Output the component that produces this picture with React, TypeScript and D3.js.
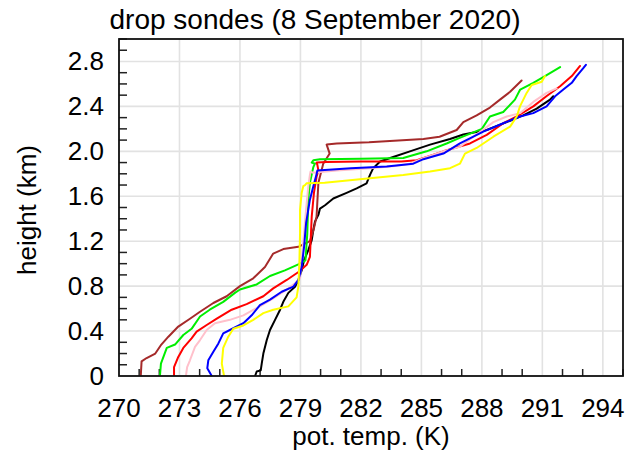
import * as d3 from "d3";

// potential temperature (K) and height (km) for each drop sonde
const brown: [number, number][] = [
  [271.08, 0], [271.12, 0.13], [271.37, 0.16], [271.8, 0.2], [272.1, 0.28], [272.45, 0.35],
  [272.94, 0.44], [273.52, 0.51], [274.0, 0.57], [274.68, 0.65], [275.34, 0.71], [276.0, 0.8],
  [276.66, 0.87], [277.24, 0.97], [277.65, 1.09], [278.15, 1.13], [278.9, 1.15], [279.47, 1.2],
  [279.65, 1.3], [279.8, 1.42], [279.89, 1.72], [280.13, 1.89], [280.45, 1.98], [280.3, 2.06],
  [280.8, 2.07], [282.4, 2.08], [285.1, 2.11], [285.9, 2.13], [286.75, 2.19], [287.08, 2.26],
  [287.74, 2.32], [288.4, 2.39], [288.9, 2.46], [289.4, 2.53], [289.97, 2.63],
];
const green: [number, number][] = [
  [272.03, 0], [272.08, 0.11], [272.37, 0.25], [272.78, 0.28], [273.19, 0.365], [273.6, 0.42],
  [274.02, 0.53], [274.5, 0.59], [275.17, 0.66], [275.75, 0.74], [276.0, 0.77], [276.83, 0.815],
  [277.49, 0.89], [278.23, 0.94], [278.98, 1.0], [279.25, 1.03], [279.34, 1.27], [279.39, 1.57],
  [279.47, 1.72], [279.64, 1.86], [279.72, 1.89], [279.56, 1.9], [279.64, 1.92], [279.97, 1.93],
  [282.0, 1.935], [284.1, 1.94], [285.26, 2.0], [286.25, 2.07], [286.9, 2.12], [288.0, 2.2],
  [288.4, 2.31], [289.06, 2.35], [289.64, 2.46], [289.9, 2.55], [290.55, 2.61], [291.13, 2.67],
  [291.88, 2.75],
];
const red: [number, number][] = [
  [272.73, 0], [272.73, 0.08], [272.94, 0.17], [273.19, 0.25], [273.6, 0.335], [273.85, 0.395],
  [274.35, 0.454], [274.85, 0.51], [275.59, 0.59], [276.33, 0.64], [277.16, 0.71], [277.65, 0.78],
  [278.32, 0.855], [278.94, 0.93], [279.31, 0.99], [279.47, 1.06], [279.56, 1.42], [279.67, 1.63],
  [279.8, 1.775], [279.89, 1.83], [279.84, 1.88], [279.8, 1.9], [280.3, 1.905], [282.0, 1.91],
  [284.0, 1.91], [284.77, 1.92], [286.09, 2.0], [287.41, 2.07], [288.24, 2.146], [289.06, 2.25],
  [289.73, 2.31], [290.55, 2.4], [291.2, 2.49], [291.88, 2.58], [292.46, 2.67], [292.87, 2.76],
];
const pink: [number, number][] = [
  [273.32, 0], [273.38, 0.08], [273.52, 0.14], [273.77, 0.26], [274.02, 0.32], [274.35, 0.41],
  [274.76, 0.47], [275.5, 0.5], [276.17, 0.54], [276.99, 0.62], [277.65, 0.69], [278.32, 0.77],
  [278.73, 0.825], [278.98, 0.87], [279.06, 1.03], [279.18, 1.27], [279.28, 1.48], [279.39, 1.69],
  [279.47, 1.79], [279.5, 1.82], [279.6, 1.81], [280.8, 1.83], [282.45, 1.85], [283.7, 1.87],
  [284.43, 1.89], [285.1, 1.94], [286.09, 2.0], [286.9, 2.04], [287.58, 2.13], [288.57, 2.26],
  [289.23, 2.31], [289.89, 2.34], [290.55, 2.44], [291.21, 2.52], [291.71, 2.56],
];
const blue: [number, number][] = [
  [274.6, 0], [274.38, 0.07], [274.43, 0.14], [274.68, 0.216], [274.93, 0.29], [275.17, 0.38],
  [275.67, 0.425], [276.17, 0.47], [276.58, 0.54], [276.99, 0.63], [277.49, 0.68], [278.07, 0.75],
  [278.65, 0.795], [278.9, 0.855], [279.06, 0.97], [279.18, 1.15], [279.28, 1.36], [279.47, 1.57],
  [279.64, 1.69], [279.77, 1.775], [279.84, 1.83], [281.5, 1.85], [283.28, 1.865], [284.6, 1.89],
  [285.1, 1.93], [286.09, 1.98], [286.91, 2.07], [288.07, 2.175], [289.06, 2.25], [289.89, 2.31],
  [290.55, 2.34], [291.21, 2.4], [291.63, 2.49], [292.04, 2.55], [292.46, 2.61], [292.7, 2.67],
  [293.03, 2.74], [293.16, 2.77],
];
const yellow: [number, number][] = [
  [275.21, 0], [275.1, 0.11], [275.17, 0.25], [275.42, 0.35], [275.67, 0.42], [276.17, 0.45],
  [276.66, 0.5], [277.16, 0.56], [277.65, 0.59], [278.4, 0.62], [278.81, 0.7], [278.9, 0.8],
  [278.95, 1.03], [278.98, 1.27], [278.98, 1.48], [279.06, 1.63], [279.14, 1.69], [279.23, 1.7],
  [279.3, 1.715], [280.2, 1.72], [282.45, 1.76], [284.1, 1.79], [285.43, 1.82], [286.42, 1.85],
  [286.91, 1.89], [287.16, 1.98], [287.74, 2.03], [288.57, 2.13], [289.4, 2.22], [289.73, 2.31],
  [289.89, 2.4], [290.22, 2.52], [290.47, 2.59], [290.97, 2.62], [291.13, 2.67],
];
const black: [number, number][] = [
  [276.75, 0], [276.83, 0.04], [277.03, 0.05], [277.08, 0.11], [277.16, 0.2], [277.33, 0.32],
  [277.49, 0.41], [277.74, 0.5], [277.99, 0.59], [278.15, 0.66], [278.4, 0.74], [278.73, 0.795],
  [278.9, 0.855], [279.06, 0.94], [279.18, 1.03], [279.39, 1.12], [279.56, 1.21], [279.64, 1.3],
  [279.72, 1.374], [279.89, 1.434], [279.97, 1.49], [280.22, 1.52], [280.63, 1.58], [281.29, 1.63],
  [281.79, 1.67], [282.28, 1.715], [282.45, 1.79], [282.61, 1.85], [282.95, 1.91], [283.6, 1.95],
  [284.43, 2.0], [285.43, 2.06], [286.42, 2.11], [287.08, 2.15], [288.24, 2.19], [289.23, 2.26],
  [290.05, 2.32], [290.72, 2.38], [291.38, 2.46], [291.54, 2.49],
];

const sondes = [
  { color: "#000000", values: black },
  { color: "#a52a2a", values: brown },
  { color: "#00ee00", values: green },
  { color: "#ff0000", values: red },
  { color: "#ffc0cb", values: pink },
  { color: "#0000ff", values: blue },
  { color: "#ffff00", values: yellow },
];

const xTicks = [270, 273, 276, 279, 282, 285, 288, 291, 294];
const yTicks = [0, 0.4, 0.8, 1.2, 1.6, 2.0, 2.4, 2.8];

const W = 628;
const H = 455;
const margin = { top: 39, right: 5, bottom: 79, left: 119 };
const font = "'Liberation Sans', Arial, sans-serif";

export default function App() {
  const x = d3.scaleLinear().domain([270, 295]).range([margin.left, W - margin.right]);
  const y = d3.scaleLinear().domain([0, 3]).range([H - margin.bottom, margin.top]);
  const line = d3
    .line<[number, number]>()
    .x((d) => x(d[0]))
    .y((d) => y(d[1]));

  const xMinor = d3.range(270, 296).filter((t) => t % 3 !== 0);
  const yMinor = d3.range(0, 31).filter((t) => t % 4 !== 0).map((t) => t / 10);
  const [x0, x1] = x.range();
  const [y0, y1] = y.range();

  return (
    <svg width={W} height={H} style={{ position: "absolute", left: 0, top: 0, background: "#fff" }}>
      <defs>
        <clipPath id="plot">
          <rect x={x0} y={y1} width={x1 - x0} height={y0 - y1} />
        </clipPath>
      </defs>
      <g stroke="#e2e2e2" strokeWidth={1.6}>
        {xTicks.map((t) => (
          <line key={"gx" + t} x1={x(t)} x2={x(t)} y1={y0} y2={y1} />
        ))}
        {yTicks.map((t) => (
          <line key={"gy" + t} x1={x0} x2={x1} y1={y(t)} y2={y(t)} />
        ))}
      </g>
      <g stroke="#222" strokeWidth={1.5}>
        {xMinor.map((t) => (
          <line key={"mx" + t} x1={x(t)} x2={x(t)} y1={y0} y2={y0 - 7} />
        ))}
        {yMinor.map((t) => (
          <line key={"my" + t} x1={x0} x2={x0 + 8} y1={y(t)} y2={y(t)} />
        ))}
      </g>
      <g clipPath="url(#plot)" fill="none" strokeWidth={2} strokeLinejoin="round" strokeLinecap="round">
        {sondes.map((s) => (
          <path key={s.color} d={line(s.values) ?? ""} stroke={s.color} />
        ))}
      </g>
      <rect x={x0} y={y1} width={x1 - x0} height={y0 - y1} fill="none" stroke="#111" strokeWidth={1.8} />
      <g fontFamily={font} fontSize={26} fill="#000">
        {xTicks.map((t) => (
          <text key={"lx" + t} x={x(t)} y={y0 + 41} textAnchor="middle">
            {t}
          </text>
        ))}
        {yTicks.map((t) => (
          <text key={"ly" + t} x={x0 - 15} y={y(t) + 9} textAnchor="end">
            {t === 0 ? "0" : t.toFixed(1)}
          </text>
        ))}
        <text x={371} y={445} textAnchor="middle">
          pot. temp. (K)
        </text>
        <text transform="translate(36,210) rotate(-90)" textAnchor="middle">
          height (km)
        </text>
        <text x={315} y={29} textAnchor="middle" fontSize={28}>
          drop sondes (8 September 2020)
        </text>
      </g>
    </svg>
  );
}
